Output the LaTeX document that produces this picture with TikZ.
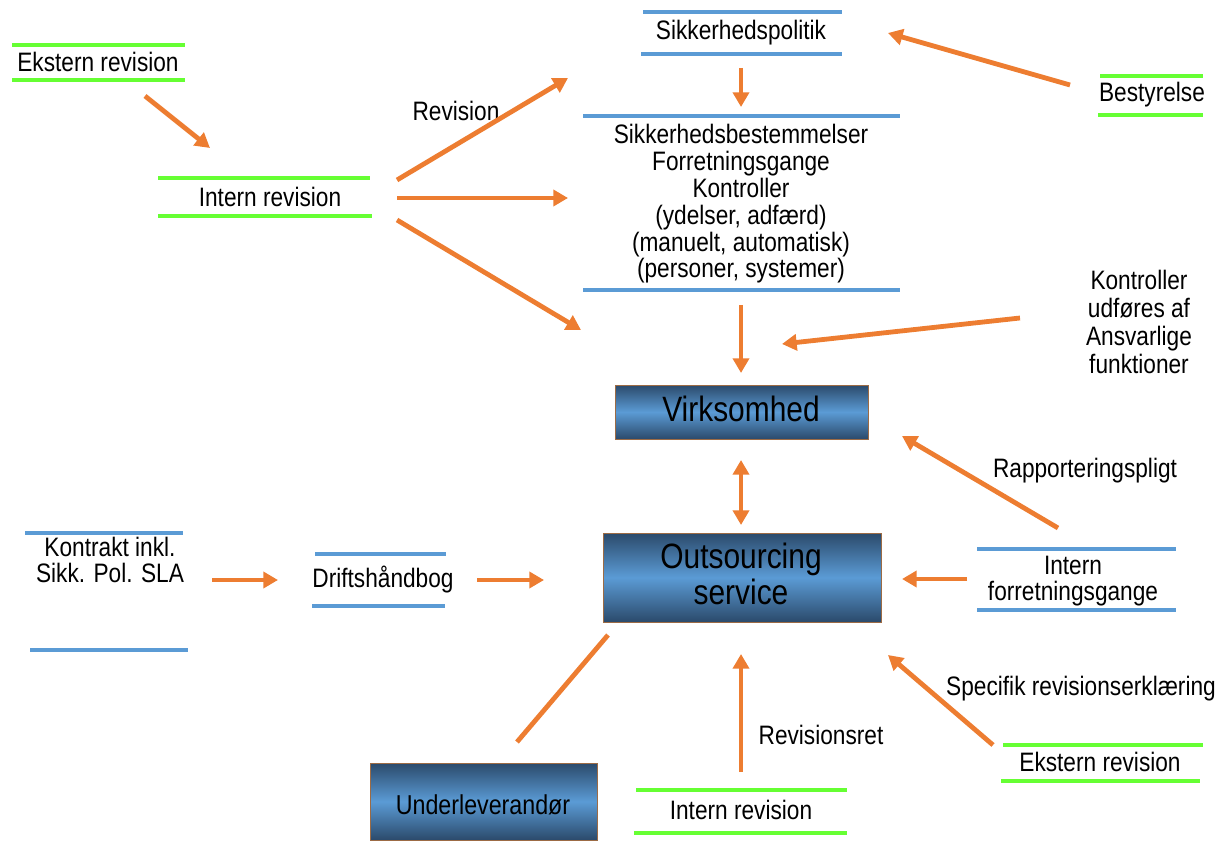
\documentclass[tikz,border=0pt]{standalone}
\usepackage{fontspec}
\setmainfont{Liberation Sans}[FakeStretch=0.85]
\usetikzlibrary{arrows.meta}
\definecolor{arr}{HTML}{ED7D31}
\definecolor{gline}{HTML}{66FF33}
\definecolor{bline}{HTML}{5B9BD5}
\definecolor{boxdark}{HTML}{2B4A6B}
\definecolor{boxlight}{HTML}{5B9BD5}
\definecolor{boxedge}{HTML}{9C6B45}
\tikzset{
  lbl/.style={font=\fontsize{20}{19.5}\selectfont, inner sep=0pt, align=center, text=black},
  biglbl/.style={font=\fontsize{26.4}{27}\selectfont, inner sep=0pt, align=center, text=black},
  gbar/.style={draw=gline, line width=3pt},
  bbar/.style={draw=bline, line width=3pt},
  conn/.style={draw=arr, line width=3.6pt, -{Triangle[length=11pt,width=12pt]}},
  dconn/.style={draw=arr, line width=3.6pt, {Triangle[length=11pt,width=12pt]}-{Triangle[length=11pt,width=12pt]}},
  plainconn/.style={draw=arr, line width=3.6pt},
  gbox/.style={draw=boxedge, line width=0.6pt, top color=boxdark, bottom color=boxdark, middle color=boxlight}
}
\begin{document}
\begin{tikzpicture}[x=0.75pt,y=-0.75pt]
\useasboundingbox (0,0) rectangle (1223,841);

% boxes
\draw[gbox] (615,385) rectangle (868,439);
\draw[gbox] (603,533) rectangle (881,622);
\draw[gbox] (370,763) rectangle (597,840);

% green bars
\draw[gbar] (12,45) -- (185,45);
\draw[gbar] (12,80) -- (185,80);
\draw[gbar] (158,178) -- (370,178);
\draw[gbar] (158,216) -- (372,216);
\draw[gbar] (1100,76) -- (1203,76);
\draw[gbar] (1098,115) -- (1203,115);
\draw[gbar] (1003,745) -- (1203,745);
\draw[gbar] (1001,781) -- (1200,781);
\draw[gbar] (636,790) -- (847,790);
\draw[gbar] (634,833) -- (847,833);

% blue bars
\draw[bbar] (643,12) -- (842,12);
\draw[bbar] (641,54) -- (842,54);
\draw[bbar] (583,116) -- (900,116);
\draw[bbar] (583,290) -- (900,290);
\draw[bbar] (25,533) -- (183,533);
\draw[bbar] (30,650) -- (188,650);
\draw[bbar] (315,554) -- (446,554);
\draw[bbar] (312,606) -- (445,606);
\draw[bbar] (977,549) -- (1176,549);
\draw[bbar] (977,610) -- (1176,610);

% labels
\node[lbl] (eksternTL) at (98,62) {Ekstern revision};
\node[lbl] (internL) at (270,197) {Intern revision};
\node[lbl] (politik) at (741,33) {Sikkerhedspolitik};
\node[lbl] (bestyrelse) at (1152,95) {Bestyrelse};
\node[lbl] (revlbl) at (456,111) {Revision};
\node[lbl, font=\fontsize{20}{20.1}\selectfont] (bestem) at (741,204) {Sikkerhedsbestemmelser\\Forretningsgange\\Kontroller\\(ydelser, adfærd)\\(manuelt, automatisk)\\(personer, systemer)};
\node[lbl, font=\fontsize{20}{21}\selectfont] (udfoeres) at (1139,322) {Kontroller\\udføres af\\Ansvarlige\\funktioner};
\node[biglbl] (virk) at (741,409) {Virksomhed};
\node[lbl] (rapp) at (1085,471) {Rapporteringspligt};
\node[lbl] (kontrakt) at (110,560) {Kontrakt inkl.\\Sikk. Pol. SLA};
\node[lbl] (drift) at (383,580) {Driftshåndbog};
\node[biglbl] (outs) at (741,574) {Outsourcing\\service};
\node[lbl] (internF) at (1073,581) {Intern\\forretningsgange};
\node[lbl] (specifik) at (1081,689) {Specifik revisionserklæring};
\node[lbl] (eksternBR) at (1100,762) {Ekstern revision};
\node[lbl] (revret) at (821,735) {Revisionsret};
\node[lbl] (internB) at (741,810) {Intern revision};
\node[lbl, font=\fontsize{20.5}{24}\selectfont] (underlev) at (483,805) {Underleverandør};

% connector end points
\coordinate (a1s) at (145,96);   \coordinate (a1e) at (210,148);
\coordinate (a2s) at (397,180);  \coordinate (a2e) at (568,78);
\coordinate (a3s) at (397,198);  \coordinate (a3e) at (568,198);
\coordinate (a4s) at (397,220);  \coordinate (a4e) at (581,330);
\coordinate (a5s) at (741,68);   \coordinate (a5e) at (741,107);
\coordinate (a6s) at (1070,85);  \coordinate (a6e) at (888,33);
\coordinate (a7s) at (741,305);  \coordinate (a7e) at (741,373);
\coordinate (a8s) at (1020,318); \coordinate (a8e) at (782,344);
\coordinate (a9s) at (741,460);  \coordinate (a9e) at (741,525);
\coordinate (a10s) at (1058,528); \coordinate (a10e) at (902,436);
\coordinate (a11s) at (967,579); \coordinate (a11e) at (902,579);
\coordinate (a12s) at (212,580); \coordinate (a12e) at (278,580);
\coordinate (a13s) at (477,580); \coordinate (a13e) at (544,580);
\coordinate (l1s) at (517,742);  \coordinate (l1e) at (608,635);
\coordinate (a14s) at (741,772); \coordinate (a14e) at (741,654);
\coordinate (a15s) at (993,745); \coordinate (a15e) at (888,655);

% connectors
\draw[conn] (a1s) -- (a1e);
\draw[conn] (a2s) -- (a2e);
\draw[conn] (a3s) -- (a3e);
\draw[conn] (a4s) -- (a4e);
\draw[conn] (a5s) -- (a5e);
\draw[conn] (a6s) -- (a6e);
\draw[conn] (a7s) -- (a7e);
\draw[conn] (a8s) -- (a8e);
\draw[dconn] (a9s) -- (a9e);
\draw[conn] (a10s) -- (a10e);
\draw[conn] (a11s) -- (a11e);
\draw[conn] (a12s) -- (a12e);
\draw[conn] (a13s) -- (a13e);
\draw[plainconn] (l1s) -- (l1e);
\draw[conn] (a14s) -- (a14e);
\draw[conn] (a15s) -- (a15e);
\end{tikzpicture}
\end{document}
